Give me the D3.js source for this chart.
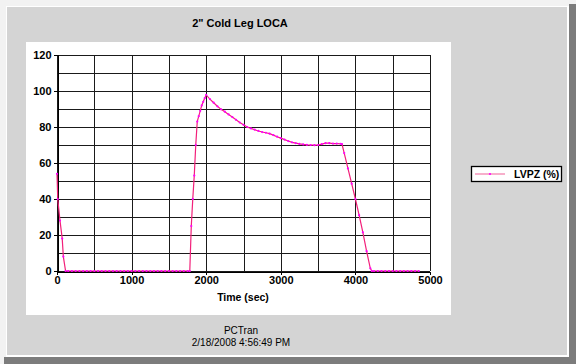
<!DOCTYPE html>
<html><head><meta charset="utf-8">
<script src="https://cdn.jsdelivr.net/npm/d3@7"></script>
<style>html,body{margin:0;padding:0;background:#efefef;}svg{display:block;}</style>
</head><body>
<script>
const title = '2" Cold Leg LOCA';
const xLabel = 'Time (sec)';
const footer1 = 'PCTran';
const footer2 = '2/18/2008 4:56:49 PM';
const seriesName = 'LVPZ (%)';
const xTicks = [0, 1000, 2000, 3000, 4000, 5000];
const yTicks = [0, 20, 40, 60, 80, 100, 120];
const time = [0,10,40,70,85,115,150,200,250,300,350,400,450,500,550,600,650,700,750,800,850,900,950,1000,1050,1100,1150,1200,1250,1300,1350,1400,1450,1500,1550,1600,1650,1700,1750,1780,1800,1820,1840,1860,1880,1900,1920,1940,1960,1980,2000,2050,2100,2150,2200,2250,2300,2350,2400,2450,2500,2550,2600,2650,2700,2750,2800,2850,2900,2950,3000,3050,3100,3150,3200,3250,3300,3350,3400,3450,3500,3550,3600,3650,3700,3750,3800,3820,3850,3900,3950,4000,4050,4100,4150,4200,4220,4250,4300,4350,4400,4450,4500,4550,4600,4650,4700,4750,4800,4850];
const lvpz = [54,40,28,18,8,0,0,0,0,0,0,0,0,0,0,0,0,0,0,0,0,0,0,0,0,0,0,0,0,0,0,0,0,0,0,0,0,0,0,0,25,40,53,70,83,86,89,92,94,96,97.8,95.5,93.5,91.5,89.8,88.5,87,85.5,84,82.5,81.2,80,79.2,78.5,77.8,77.2,76.8,76.3,75.5,74.6,73.8,73,72.2,71.5,71,70.6,70.3,70.1,70,69.9,70,70.5,71,71,70.8,70.8,70.7,70.5,65.5,57,48.5,40,31,21.5,11,1.5,0,0,0,0,0,0,0,0,0,0,0,0,0,0];

const W = 576, H = 364;
const svg = d3.select('body').append('svg').attr('width', W).attr('height', H);
const font = '"Liberation Sans", Arial, sans-serif';

// window frame
svg.append('rect').attr('x',0).attr('y',0).attr('width',W).attr('height',H).attr('fill','#f2f2f2');
svg.append('rect').attr('x',569).attr('y',4).attr('width',7).attr('height',360).attr('fill','#7c7c7c');
svg.append('rect').attr('x',4).attr('y',357).attr('width',572).attr('height',7).attr('fill','#7c7c7c');
svg.append('rect').attr('x',6).attr('y',6).attr('width',563).attr('height',351).attr('fill','#ffffff');
svg.append('rect').attr('x',7).attr('y',7).attr('width',560).attr('height',348).attr('fill','#d4d4d4');

// white plot panel
svg.append('rect').attr('x',26).attr('y',42).attr('width',425).attr('height',273).attr('fill','#ffffff');

const x = d3.scaleLinear().domain([0, 5000]).range([57, 430]);
const y = d3.scaleLinear().domain([0, 120]).range([271, 55]);

// grid
const g = svg.append('g').attr('shape-rendering','crispEdges');
const xGrid = d3.range(0, 5001, 500);
const yGrid = d3.range(0, 121, 10);
g.selectAll('.vg').data(xGrid).join('line')
  .attr('x1', d => Math.round(x(d)) + 0.5).attr('x2', d => Math.round(x(d)) + 0.5)
  .attr('y1', y(120)).attr('y2', y(0)).attr('stroke', '#1a1a1a');
g.selectAll('.hg').data(yGrid).join('line')
  .attr('y1', d => Math.round(y(d)) + 0.5).attr('y2', d => Math.round(y(d)) + 0.5)
  .attr('x1', x(0)).attr('x2', x(5000)).attr('stroke', '#1a1a1a');

// axes
const yAxis = d3.axisLeft(y).tickValues(yTicks).tickSize(4).tickPadding(2).tickFormat(d3.format('d'));
const xAxis = d3.axisBottom(x).tickValues(xTicks).tickSize(3).tickPadding(2).tickFormat(d3.format('d'));
const ya = svg.append('g').attr('transform', `translate(${Math.round(x(0))+0.5},0)`).call(yAxis);
const xa = svg.append('g').attr('transform', `translate(0,${Math.round(y(0))+0.5})`).call(xAxis);
[ya, xa].forEach(a => {
  a.select('.domain').attr('stroke', '#000').attr('shape-rendering','crispEdges');
  a.selectAll('.tick line').attr('stroke', '#000').attr('shape-rendering','crispEdges');
  a.selectAll('text').attr('font-family', font).attr('font-size', '11px').attr('font-weight', 'bold').attr('fill', '#000');
});

// series
const pts = time.map((t, i) => [t, lvpz[i]]);
const line = d3.line().x(d => x(d[0])).y(d => y(d[1]));
svg.append('path').datum(pts).attr('d', line).attr('fill', 'none').attr('stroke', '#f2207a').attr('stroke-width', 1.2);
svg.append('g').selectAll('circle').data(pts).join('circle')
  .attr('cx', d => x(d[0])).attr('cy', d => y(d[1])).attr('r', 1.1).attr('fill', '#ff00ff');

// texts
svg.append('text').attr('x', 240).attr('y', 27).attr('text-anchor', 'middle')
  .attr('font-family', font).attr('font-size', '11px').attr('font-weight', 'bold').text(title);
svg.append('text').attr('x', 243).attr('y', 301).attr('text-anchor', 'middle')
  .attr('font-family', font).attr('font-size', '10.5px').attr('font-weight', 'bold').text(xLabel);
svg.append('text').attr('x', 241).attr('y', 334).attr('text-anchor', 'middle')
  .attr('font-family', font).attr('font-size', '10px').text(footer1);
svg.append('text').attr('x', 241).attr('y', 346).attr('text-anchor', 'middle')
  .attr('font-family', font).attr('font-size', '10px').text(footer2);

// legend
const lg = svg.append('g');
lg.append('rect').attr('x', 471.5).attr('y', 166.5).attr('width', 90).attr('height', 15)
  .attr('fill', '#fff').attr('stroke', '#000').attr('stroke-width', 1.3);
lg.append('line').attr('x1', 475).attr('x2', 505).attr('y1', 174).attr('y2', 174).attr('stroke', '#f27aa8').attr('stroke-width', 1.2);
lg.append('circle').attr('cx', 490).attr('cy', 174).attr('r', 1.1).attr('fill', '#ff00ff');
lg.append('text').attr('x', 514).attr('y', 178).attr('font-family', font).attr('font-size', '10.5px').attr('font-weight', 'bold').text(seriesName);
</script>
</body></html>
